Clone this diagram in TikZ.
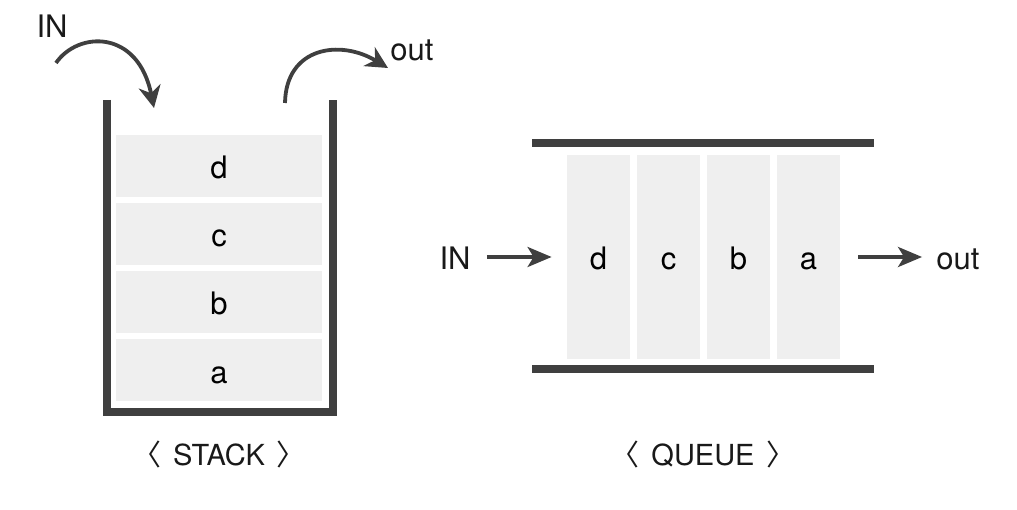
\documentclass[tikz,border=0pt]{standalone}
\usepackage{fontspec}
\setmainfont{TeX Gyre Heros}
\newfontfamily\cjkfont{Noto Sans CJK SC}
\usetikzlibrary{positioning,arrows.meta}
\definecolor{wallgray}{HTML}{3F3F3F}
\definecolor{cellgray}{HTML}{EFEFEF}

\begin{document}
\begin{tikzpicture}[
    x=0.5pt, y=0.5pt,
    font=\fontsize{15.5}{18}\selectfont,
    wall/.style={draw=wallgray, line width=3.8pt},
    scell/.style={fill=cellgray, minimum width=103pt, minimum height=31pt, inner sep=0pt, text height=13pt, text depth=0pt},
    qcell/.style={fill=cellgray, minimum width=31.5pt, minimum height=102pt, inner sep=0pt, text height=13pt, text depth=0pt},
    lbl/.style={inner sep=0pt, text=black!90, text height=13pt, text depth=0pt},
    caption/.style={inner sep=0pt, text=black!90, font=\fontsize{14.5}{17}\selectfont, text height=11pt, text depth=0pt},
    curvearrow/.style={-{Stealth[length=11pt, width=11pt, inset=3.5pt]}, line width=1.9pt, wallgray},
    flow/.style={-{Stealth[length=12pt, width=10pt, inset=3pt]}, line width=1.8pt, wallgray},
]
  \useasboundingbox (0,0) rectangle (1017,509);

  % stack
  \draw[wall] (107,409) -- (107,97) -- (333,97) -- (333,409);
  \node[scell] (sd) at (219,343) {d};
  \node[scell] (sc) at (219,275) {c};
  \node[scell] (sb) at (219,207) {b};
  \node[scell] (sa) at (219,139) {a};

  \node[lbl] (sin) at (52,484) {IN};
  \node[lbl] (sout) at (412,461) {out};
  \coordinate (sinfrom) at (56,446);
  \coordinate (sinto) at (154,401);
  \coordinate (soutfrom) at (285,406);
  \coordinate (soutto) at (388,441);
  \draw[curvearrow] (sinfrom) .. controls (78,478) and (138,480) .. (sinto);
  \draw[curvearrow] (soutfrom) .. controls (286,462) and (340,470) .. (soutto);

  \node[caption] (stack) at (219,55) {{\cjkfont 〈}\hspace{6pt}STACK\hspace{6pt}{\cjkfont 〉}};

  % queue
  \draw[wall] (532,366) -- (874,366);
  \draw[wall] (532,140) -- (874,140);
  \node[qcell] (qd) at (598.5,252) {d};
  \node[qcell] (qc) at (668.5,252) {c};
  \node[qcell] (qb) at (738.5,252) {b};
  \node[qcell] (qa) at (808.5,252) {a};

  \node[lbl] (qin) at (455,252) {IN};
  \node[lbl] (qout) at (958,252) {out};
  \draw[flow, shorten <=8pt, shorten >=7.5pt] (qin) -- (qd);
  \draw[flow, shorten <=9pt, shorten >=7pt] (qa) -- (qout);

  \node[caption] (queue) at (703,55) {{\cjkfont 〈}\hspace{6pt}QUEUE\hspace{6pt}{\cjkfont 〉}};
\end{tikzpicture}
\end{document}
